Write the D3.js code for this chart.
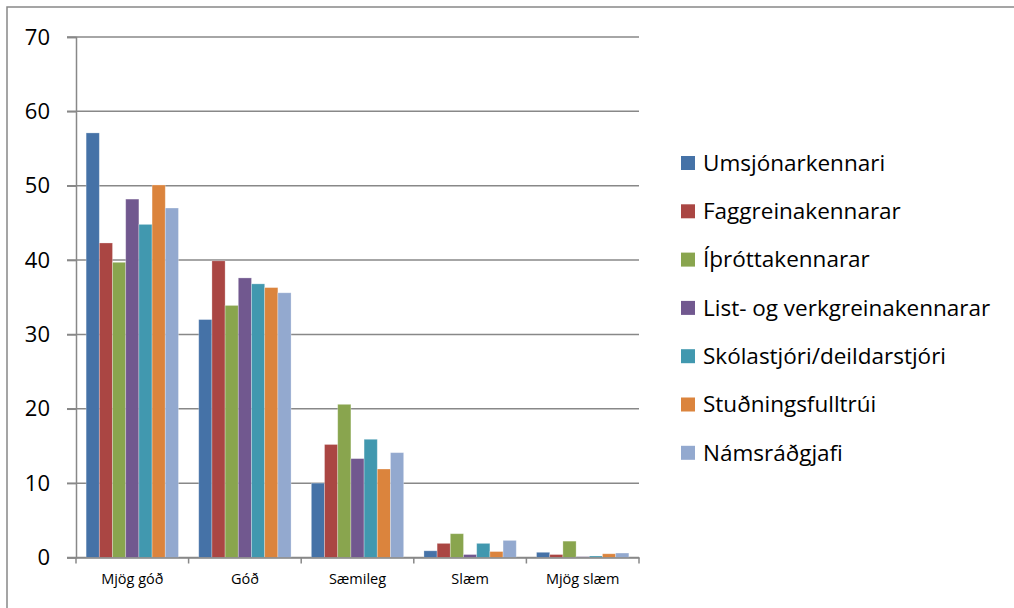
<!DOCTYPE html>
<html>
<head>
<meta charset="utf-8">
<script src="https://cdn.jsdelivr.net/npm/d3@7"></script>
<style>
  body { margin: 0; background: #fff; }
  svg { display: block; font-family: "Open Sans", sans-serif; }
</style>
</head>
<body>
<svg id="chart" width="1014" height="608"></svg>
<script>
const categories = ["Mjög góð", "Góð", "Sæmileg", "Slæm", "Mjög slæm"];
const seriesNames = ["Umsjónarkennari", "Faggreinakennarar", "Íþróttakennarar",
  "List- og verkgreinakennarar", "Skólastjóri/deildarstjóri", "Stuðningsfulltrúi", "Námsráðgjafi"];
const umsjon = [57.1, 32.0, 10.0, 0.9, 0.7];
const faggrein = [42.3, 39.9, 15.2, 1.9, 0.4];
const ithrott = [39.7, 33.9, 20.6, 3.2, 2.2];
const listVerk = [48.2, 37.6, 13.3, 0.4, 0.1];
const skolastjori = [44.8, 36.8, 15.9, 1.9, 0.2];
const studnings = [50.1, 36.3, 11.9, 0.8, 0.5];
const namsradgjafi = [47.0, 35.6, 14.1, 2.3, 0.6];
const yTicks = [0, 10, 20, 30, 40, 50, 60, 70];
const colors = ["#4572A7", "#AA4643", "#89A54E", "#71588F", "#4198AF", "#DB843D", "#93A9CF"];

const seriesValues = [umsjon, faggrein, ithrott, listVerk, skolastjori, studnings, namsradgjafi];

const svg = d3.select("#chart");
const plot = { left: 76, right: 639, top: 37, bottom: 557.5 };

// outer chart border (only top and left fall inside the picture)
svg.append("rect")
  .attr("x", 7).attr("y", 7).attr("width", 1030).attr("height", 640)
  .attr("fill", "none").attr("stroke", "#888").attr("stroke-width", 1.5);

const x0 = d3.scaleBand().domain(categories).range([plot.left, plot.right]);
const gap = x0.bandwidth() * 0.09;
const x1 = d3.scaleBand().domain(d3.range(seriesNames.length)).range([gap, x0.bandwidth() - gap]);
const y = d3.scaleLinear().domain([0, 70]).range([plot.bottom, plot.top]);

// gridlines
svg.append("g")
  .selectAll("line").data(yTicks).join("line")
  .attr("x1", plot.left - 9).attr("x2", plot.right)
  .attr("y1", d => y(d)).attr("y2", d => y(d))
  .attr("stroke", "#888").attr("stroke-width", 1.5);

// bars
const groups = svg.append("g").selectAll("g").data(categories).join("g")
  .attr("transform", d => `translate(${x0(d)},0)`);
groups.selectAll("rect")
  .data((c, ci) => seriesValues.map((vals, si) => ({ si, v: vals[ci] })))
  .join("rect")
  .attr("x", d => x1(d.si))
  .attr("width", x1.bandwidth())
  .attr("y", d => y(d.v))
  .attr("height", d => y(0) - y(d.v))
  .attr("fill", d => colors[d.si])
  .attr("stroke", "rgba(255,255,255,0.35)")
  .attr("stroke-width", 0.8);

// y axis
const yAxis = svg.append("g")
  .attr("transform", `translate(${plot.left},0)`)
  .call(d3.axisLeft(y).tickValues(yTicks).tickSize(9).tickPadding(17));
yAxis.select(".domain").attr("stroke", "#888").attr("stroke-width", 1.5);
yAxis.selectAll(".tick line").attr("stroke", "#888").attr("stroke-width", 1.5);
yAxis.selectAll("text").attr("font-size", 22).attr("fill", "#000")
  .attr("font-family", "'Open Sans', sans-serif");

// x axis
const xAxis = svg.append("g")
  .attr("transform", `translate(0,${plot.bottom})`)
  .call(d3.axisBottom(x0).tickSize(0).tickPadding(16));
xAxis.select(".domain").attr("stroke", "#888").attr("stroke-width", 1.5);
xAxis.selectAll("text").attr("font-size", 14.5).attr("fill", "#000")
  .attr("font-family", "'Open Sans', sans-serif");
// category separators below the axis
svg.append("g").selectAll("line")
  .data(categories.concat(["end"]))
  .join("line")
  .attr("x1", (d, i) => i < categories.length ? x0(d) : plot.right)
  .attr("x2", (d, i) => i < categories.length ? x0(d) : plot.right)
  .attr("y1", plot.bottom).attr("y2", plot.bottom + 6)
  .attr("stroke", "#888").attr("stroke-width", 1.5);

// legend
const legend = svg.append("g").attr("transform", "translate(681,163)");
const item = legend.selectAll("g").data(seriesNames).join("g")
  .attr("transform", (d, i) => `translate(0,${i * 48.3})`);
item.append("rect")
  .attr("x", 0).attr("y", -7).attr("width", 14).attr("height", 14)
  .attr("fill", (d, i) => colors[i]);
item.append("text")
  .attr("x", 22).attr("y", 0).attr("dy", "0.35em")
  .attr("font-size", 22.5).attr("fill", "#000")
  .text(d => d);
</script>
</body>
</html>
